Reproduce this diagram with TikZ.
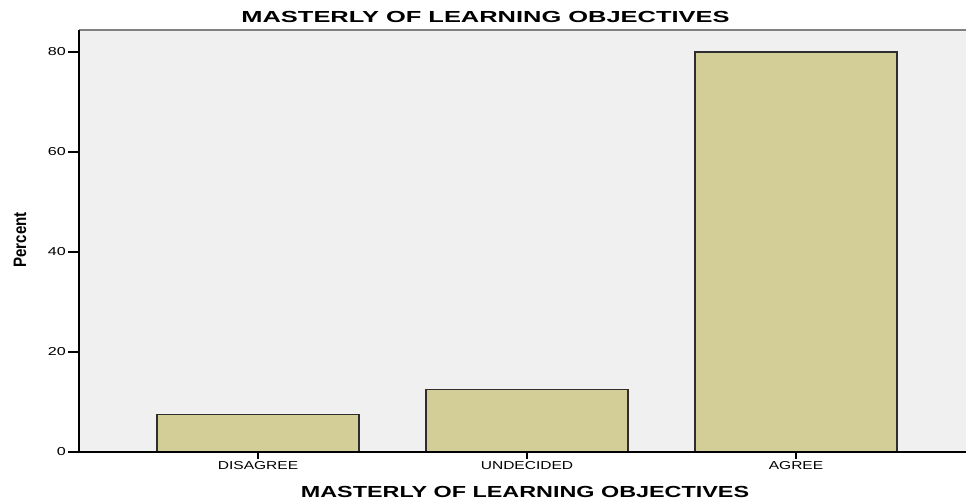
\documentclass[tikz,border=0pt]{standalone}
\usepackage{fontspec}
\setmainfont{Liberation Sans}
\usepackage{graphicx}
\usetikzlibrary{positioning}
\definecolor{plotbg}{HTML}{F0F0F0}
\definecolor{barfill}{HTML}{D3CD97}
\definecolor{barline}{HTML}{2E2E2E}
\tikzset {
  % plot frame and axes
  axis line/.style = {
    draw = black,
    line width = 1.2pt
  },
  frame line/.style = {
    draw = gray,
    line width = 1.2pt
  },
  % one bar of the chart
  bar box/.style = {
    fill = barfill,
    draw = barline,
    line width = 1.2pt
  },
  tick label/.style = {
    font = \fontsize{11.5}{12}\selectfont,
    inner sep = 0,
    anchor = east
  },
  cat label/.style = {
    font = \fontsize{11.5}{12}\selectfont,
    inner sep = 0
  },
  chart title/.style = {
    font = \fontsize{16}{18}\selectfont\bfseries,
    inner sep = 0
  }
}

\begin{document}
\begin{tikzpicture}[x = 1pt, y = -1pt]
    \useasboundingbox (0,0) rectangle (966,501);

    \fill[plotbg] (79,30) rectangle (966,452);
    \draw[frame line] (79,30) -- (966,30);

    \foreach \cx/\val/\name in {258/7.5/DISAGREE, 527/12.5/UNDECIDED, 796/80/AGREE} {
      \draw[bar box] (\cx-101,452) rectangle (\cx+101,{452-5*\val});
      \draw[axis line] (\cx,452) -- (\cx,459);
      \node[cat label] (cat-\name) at (\cx,466) {\scalebox{1.35}[1]{\name}};
    }

    \draw[axis line] (79,30) -- (79,452) -- (966,452);

    \foreach \v in {0,20,...,80} {
      \draw[axis line] (68,{452-5*\v}) -- (79,{452-5*\v});
      \node[tick label] (tick-\v) at (66,{452-5*\v}) {\scalebox{1.4}[1]{\v}};
    }

    \node[chart title, rotate = 90, font = \fontsize{18}{20}\selectfont\bfseries] (ylabel) at (20,240) {\scalebox{0.84}[1]{Percent}};
    \node[chart title] (title) at (485.5,16.5) {\scalebox{1.59}[1]{MASTERLY OF LEARNING OBJECTIVES}};
    \node[chart title] (xlabel) at (525,492) {\scalebox{1.46}[1]{MASTERLY OF LEARNING OBJECTIVES}};

  \end{tikzpicture}
\end{document}
